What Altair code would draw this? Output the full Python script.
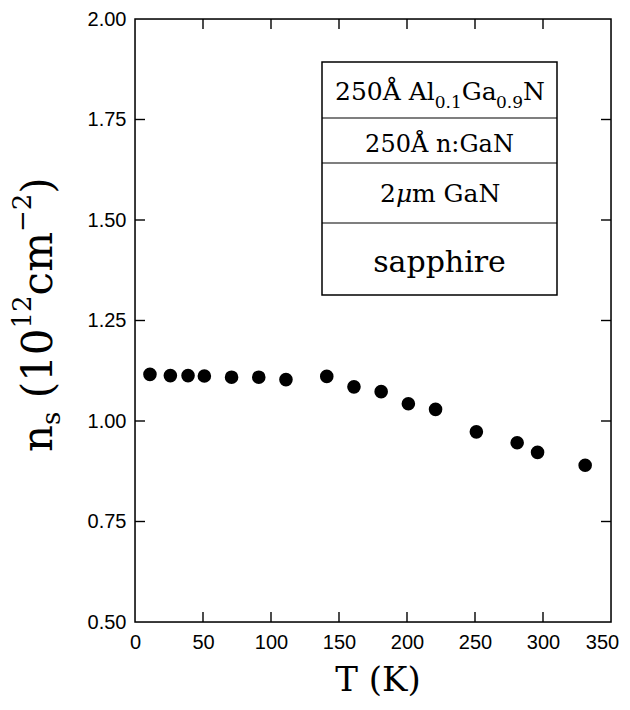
import altair as alt
import pandas as pd

# ---- data ----
T_K = [11, 26, 39, 51, 71, 91, 111, 141, 161, 181, 201, 221, 251, 281, 296, 331]
ns = [1.116, 1.113, 1.113, 1.112, 1.109, 1.109, 1.103, 1.111, 1.085, 1.073,
      1.043, 1.029, 0.973, 0.946, 0.922, 0.890]
x_labels = [0, 50, 100, 150, 200, 250, 300, 350]
y_labels = [0.50, 0.75, 1.00, 1.25, 1.50, 1.75, 2.00]
x_inner_ticks = [50, 100, 150, 200, 250, 300]
y_inner_ticks = [0.75, 1.00, 1.25, 1.50, 1.75]

W, H = 476, 603
TICK = 10
SERIF = "DejaVu Serif"
SANS = "Liberation Sans"

df = pd.DataFrame({"T": T_K, "ns": ns})
xs = alt.Scale(domain=[0, 350], nice=False, zero=False)
ys = alt.Scale(domain=[0.5, 2.0], nice=False, zero=False)

axis_common = dict(ticks=False, domain=False, grid=False, labelFont=SANS,
                   labelFontSize=20, labelColor="black", labelOverlap=False,
                   labelFlush=False, labelBound=False, title=None)
x_axis = alt.Axis(values=x_labels, format="d", labelPadding=10,
                  labelOffset=alt.condition("datum.value == 350", alt.value(-9), alt.value(0)),
                  **axis_common)
y_axis = alt.Axis(values=y_labels, format=".2f", labelPadding=9, **axis_common)

points = alt.Chart(df).mark_circle(size=185, color="black", opacity=1).encode(
    x=alt.X("T:Q", scale=xs, axis=x_axis),
    y=alt.Y("ns:Q", scale=ys, axis=y_axis),
)

xt = pd.DataFrame({"v": x_inner_ticks})
yt = pd.DataFrame({"v": y_inner_ticks})
tick_style = dict(color="black", strokeWidth=1.4)
bottom_ticks = alt.Chart(xt).mark_rule(**tick_style).encode(
    x=alt.X("v:Q", scale=xs, axis=x_axis), y=alt.value(H), y2=alt.value(H - TICK))
top_ticks = alt.Chart(xt).mark_rule(**tick_style).encode(
    x=alt.X("v:Q", scale=xs, axis=x_axis), y=alt.value(0), y2=alt.value(TICK))
left_ticks = alt.Chart(yt).mark_rule(**tick_style).encode(
    y=alt.Y("v:Q", scale=ys, axis=y_axis), x=alt.value(0), x2=alt.value(TICK))
right_ticks = alt.Chart(yt).mark_rule(**tick_style).encode(
    y=alt.Y("v:Q", scale=ys, axis=y_axis), x=alt.value(W - TICK), x2=alt.value(W))

one = pd.DataFrame({"a": [0]})

frame = alt.Chart(one).mark_rect(fill=None, filled=False, stroke="black", strokeWidth=1.5).encode(
    x=alt.value(0), x2=alt.value(W), y=alt.value(0), y2=alt.value(H))

# inset layer-structure box
BX0, BX1, BY0, BY1 = 187, 422, 43, 276
BXC = (BX0 + BX1) / 2
box = alt.Chart(one).mark_rect(fill="white", stroke="black", strokeWidth=1.5).encode(
    x=alt.value(BX0), x2=alt.value(BX1), y=alt.value(BY0), y2=alt.value(BY1))
dividers = [alt.Chart(one).mark_rule(color="black", strokeWidth=1.2).encode(
    x=alt.value(BX0), x2=alt.value(BX1), y=alt.value(py)) for py in (99, 144, 204)]


def txt(t, px, py, fs, align="left", angle=0, style="normal", font=SERIF):
    kw = dict(align=align, baseline="alphabetic", font=font, fontSize=fs,
              color="black", fontStyle=style)
    if angle:
        kw["angle"] = angle
    return alt.Chart(one).mark_text(**kw).encode(
        x=alt.value(px), y=alt.value(py), text=alt.value(t))


labels = []
# row 1: 250Å Al0.1Ga0.9N
fm, fsub = 25, 17
x0 = 200
segs = [("250Å Al", fm, 0, 3.99), ("0.1", fsub, 8, 1.59), ("Ga", fm, 0, 1.371),
        ("0.9", fsub, 8, 1.59), ("N", fm, 0, 0.837)]
cx = x0
for t, fs, dy, em in segs:
    labels.append(txt(t, cx, 81 + dy, fs))
    cx += em * fs
# row 2
labels.append(txt("250Å n:GaN", BXC, 133, 24, align="center"))
# row 3: 2μm GaN
fr = 25
labels.append(txt("2", 245, 183, fr))
labels.append(txt("μ", 245 + 0.636 * fr, 183, fr, style="italic"))
labels.append(txt("m GaN", 245 + 1.276 * fr, 183, fr))
# row 4
labels.append(txt("sapphire", BXC, 253, 30, align="center"))

# x title
labels.append(txt("T (K)", 243, 672, 34, align="center"))

# y title, rotated, built from pieces (bottom to top)
fM, fS = 42, 26
bx = -83
ytitle = [("n", fM, 0, 0.644), ("s", fS, 8, 0.513), (" ", fM, 0, 0.318),
          ("(10", fM, 0, 1.662), ("12", fS, -21, 1.272), ("cm", fM, 0, 1.508),
          ("−2", fS, -21, 1.474), (")", fM, 0, 0.39)]
cy = 433
for t, fs, dx, em in ytitle:
    if t.strip():
        labels.append(txt(t, bx + dx, cy, fs, angle=270))
    cy -= em * fs

chart = alt.layer(points, bottom_ticks, top_ticks, left_ticks, right_ticks,
                  box, *dividers, *labels, frame).properties(
    width=W, height=H,
    autosize=alt.AutoSizeParams(type="none"),
    padding={"left": 127, "top": 11, "right": 11, "bottom": 80},
).configure_view(stroke=None).configure(background="white")

chart.save("out.html", embed_options={"renderer": "svg", "actions": False})
